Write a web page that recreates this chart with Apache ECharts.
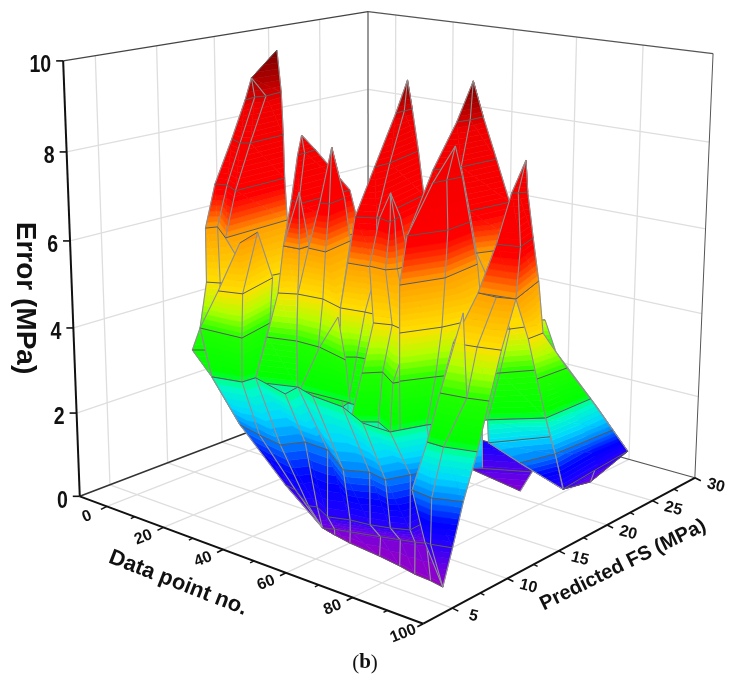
<!DOCTYPE html>
<html lang="en">
<head>
<meta charset="UTF-8" />
<title>Error surface</title>
<script src="https://cdn.jsdelivr.net/npm/echarts@6/dist/echarts.min.js"></script>
<style>html,body{margin:0;background:#fff}</style>
</head>
<body>
<div id="main" style="width:736px;height:683px"></div>
<script>
// tick labels
const xTicks=[0,20,40,60,80,100], xMinor=[10,30,50,70,90];
const yTicks=[5,10,15,20,25,30], yMinor=[7.5,12.5,17.5,22.5,27.5];
const zTicks=[0,2,4,6,8,10];

// surface values, one block per fold of the surface, back to front
// x = data point no., y = predicted FS, z = error (a single number means the whole row)
const tailBackX=[[85.2,87.8],[84.2,84.4],[83.7,81.5],[94.0,92.1]];
const tailBackY=[[16.8,17.4],[17.7,19.8],[22.8,25.5],[21.3,25.1]];
const tailBackZ=[4.7,3.7,1.8,1];
const patchX=[[64.6,80.1],[64.6,77.3],[57.8,75.3]];
const patchY=[[19.0,18.9],[18.3,20.1],[20.5,19.6]];
const patchZ=[1.3,0.7,0.25];
const leftX=[[13.4,13.4,13.4,12.2],[16.2,15.2,16.3,15.4],[9.1,13.9,15.8,15.2],[7.0,10.0,16.0,15.5],[5.8,7.2,16.3,15.5],[13.1,16.2,19.8,21.9],[13.4,18.5,26.8,23.5],[18.8,22.8,27.0,27.3],[26.5,27.4,31.7,32.9]];
const leftY=[[12.3,12.3,12.3,14.9],[11.0,12.1,12.8,14.4],[11.6,11.1,11.5,14.6],[10.6,10.9,10.1,14.6],[10.0,10.7,9.1,14.8],[8.2,8.6,10.3,13.1],[7.5,7.5,7.7,11.0],[7.1,7.2,7.6,8.7],[7.5,7.7,7.5,7.7]];
const leftZ=[[9.4,9.4,9.4,9.9],9,8,7,6,5,4,3,2];
const cornerX=[[13.4,13.4],[12.2,14.6],[18.8,18.8]];
const cornerY=[[7.5,7.5],[7.1,7.6],[7.1,7.1]];
const cornerZ=[4,3.5,3];
const leftLowX=[[22.3,21.3,21.3],[20.7,26.9,22.7],[13.4,26.8,23.5],[18.8,27.0,27.3],[26.5,34.9,35.8]];
const leftLowY=[[8.8,10.6,10.6],[7.3,7.8,11.5],[7.5,7.7,11.0],[7.1,7.6,8.7],[7.5,7.0,7.2]];
const leftLowZ=[[6,6.1,6.1],5,4,3,2];
const midAX=[[40.5,40.5,40.5],[34.0,33.7,33.2],[32.6,36.8,36.4],[32.1,36.9,37.3],[32.8,37.0,46.0],[30.8,38.4,49.3],[29.3,39.7,56.3],[32.9,41.8,57.5]];
const midAY=[[9.4,9.4,9.4],[10.8,11.5,12.6],[10.6,10.1,14.8],[10.0,10.1,15.5],[9.3,9.9,13.0],[8.8,9.4,12.0],[8.1,9.1,8.9],[7.7,8.5,8.6]];
const midAZ=[8.6,8,7,6,5,4,3,2];
const midInnerX=[[41.1,41.1,41.1],[32.1,36.9,36.8]];
const midInnerY=[[9.0,9.0,9.0],[10.0,10.1,11.0]];
const midInnerZ=[7.4,6];
const midBX=[[40.9,40.9,40.9],[39.9,42.2,41.0],[38.0,43.4,41.1],[37.0,44.3,52.3],[38.4,45.3,54.3],[39.7,46.6,57.1],[41.8,48.9,58.6]];
const midBY=[[11.9,11.9,11.9],[11.1,11.3,13.0],[10.6,10.6,13.5],[9.9,10.1,9.4],[9.4,9.4,8.8],[9.1,8.5,8.2],[8.5,7.8,7.7]];
const midBZ=[8.2,7,6,5,4,3,2];
const centreX=[[55.7,55.7,55.7],[54.2,54.1,53.9],[56.2,56.1,52.6],[55.1,59.6,53.4],[53.9,61.8,61.2],[52.3,58.8,68.9],[54.3,57.3,68.6],[57.1,56.3,70.8],[58.6,58.3,72.9]];
const centreY=[[14.4,14.4,14.4],[13.8,14.6,15.4],[11.3,12.7,16.4],[9.9,10.5,16.7],[9.6,9.9,13.5],[9.4,9.7,9.8],[8.8,9.4,9.9],[8.2,8.9,9.3],[7.7,8.3,8.7]];
const centreZ=[9.7,9,8,7,6,5,4,3,2];
const backPeakX=[[75.6,75.6,75.6],[71.6,72.4,72.5],[68.3,71.2,72.3],[71.2,71.6,73.4],[74.8,71.1,76.3],[75.2,92.1,95.4],[75.9,89.5,96.1],[77.1,88.0,97.4]];
const backPeakY=[[14.2,14.2,14.2],[14.0,15.0,16.2],[12.9,14.6,17.6],[10.0,15.3,18.6],[8.0,16.2,19.1],[7.9,12.5,14.2],[7.7,12.5,14.8],[7.4,11.9,14.3]];
const backPeakZ=[9.9,9,8,7,6,5,4,3];
const backLowX=[[88.0,97.4],[86.6,95.1],[93.0,95.8],[92.7,92.7]];
const backLowY=[[11.9,14.3],[12.5,15.6],[13.4,15.9],[17.9,17.9]];
const backLowZ=[3,2.4,2,0.9];
const tailX=[[100.9,96.3],[99.5,99.5],[98.4,99.0],[97.4,97.7],[95.8,97.1],[94.2,92.1]];
const tailY=[[10.0,13.7],[11.7,13.1],[13.0,15.7],[14.3,18.7],[15.9,21.4],[17.4,25.1]];
const tailZ=[6,5,4,3,2,1];
const bulgeX=[[92.7,93.1,92.1],[92.7,87.4,92.1]];
const bulgeY=[[17.9,21.1,25.1],[17.9,22.8,25.1]];
const bulgeZ=[[0.9,1,1],[0.9,0.4,1]];
const innerX=[[60.7,60.7,60.7,60.7],[60.1,64.3,63.3,63.0],[59.5,64.3,65.8,65.9],[65.8,70.0,76.9,78.1],[65.8,68.9,75.6,78.8],[65.1,70.0,76.2,79.6],[65.7,71.0,77.0,80.7]];
const innerY=[[11.4,11.4,11.4,11.4],[10.6,10.3,11.0,11.6],[9.9,9.9,10.5,11.6],[8.4,8.8,8.3,9.3],[7.4,8.3,7.2,9.1],[6.6,7.6,6.8,9.0],[6.1,7.3,6.5,8.7]];
const innerZ=[7.5,7,6,5,4,3,2];
const frontPeakX=[[81.3,81.3,81.3],[76.6,77.1,77.8],[75.2,78.8,78.0],[74.8,78.8,77.2],[75.2,79.6,82.2],[75.9,80.1,86.0],[77.1,79.6,87.1],[78.0,80.7,88.3]];
const frontPeakY=[[10.8,10.8,10.8],[10.3,11.4,12.6],[8.5,11.0,13.3],[8.0,10.8,14.3],[7.9,10.3,13.2],[7.7,9.6,12.0],[7.4,9.0,11.7],[7.1,8.7,11.4]];
const frontPeakZ=[8.8,8,7,6,5,4,3,2];
const foldAX=[[51.9,51.9],[45.7,56.6],[41.5,56.7]];
const foldAY=[[9.3,9.3],[9.4,8.6],[8.8,9.0]];
const foldAZ=[4.8,4,3];
const baseX=[[18.8,27.0,27.3,40.8,39.7,46.6,57.1,67.8,76.2,79.6,85.5],[26.5,34.9,43.2,46.3,53.8,65.0,70.5,76.2,78.5,81.0,85.5],[42.4,46.4,55.3,57.3,63.0,68.1,73.4,78.0,82.1,81.8,87.4],[56.0,56.0,56.0,56.0,58.7,62.5,69.7,74.3,77.7,80.1,83.1],[56.0,56.0,56.0,56.0,55.9,61.7,71.8,78.8,84.2,89.1,93.2]];
const baseY=[[7.1,7.6,8.7,7.7,9.1,8.5,8.2,6.9,6.8,9.0,11.1],[7.5,7.0,6.6,7.9,7.8,6.0,6.7,6.4,7.9,9.2,10.4],[7.2,7.0,5.7,5.9,5.2,5.7,5.9,6.3,6.8,8.5,8.8],[6.7,6.7,6.7,6.7,7.0,7.3,7.9,8.3,8.6,8.9,9.2],[6.7,6.7,6.7,6.7,7.8,7.5,7.2,6.9,6.6,6.5,6.3]];
const baseZ=[3,2,1,0.4,[0.4,0.4,0.4,0.4,0.1,0.1,0.1,0.1,0.1,0.1,0.1]];
const spikeX=[[101.7,101.7,101.7],[95.7,96.6,97.7],[94.5,99.8,97.4],[91.8,100.9,96.3]];
const spikeY=[[10.4,10.4,10.4],[11.2,11.5,12.0],[10.3,10.7,12.7],[9.6,10.0,13.7]];
const spikeZ=[8.8,8,7,6];
const stripX=[[91.8,96.8,100.9],[88.8,94.5,99.9],[87.8,94.3,99.2],[86.5,91.1,98.6],[84.6,90.8,97.4],[89.0,90.6,95.5],[93.2,93.2,93.2]];
const stripY=[[9.6,9.6,10.0],[8.4,8.7,9.1],[7.6,7.9,8.3],[6.9,6.9,7.5],[6.2,6.0,6.7],[6.0,6.0,6.4],[6.3,6.3,6.3]];
const stripZ=[6,5,4,3,2,1,0.1];
const foldBX=[[85.3,85.3],[87.8,94.3],[86.5,91.1]];
const foldBY=[[10.4,10.4],[7.6,7.9],[6.9,6.9]];
const foldBZ=[5.4,4,3];

const sheets=[[tailBackX,tailBackY,tailBackZ],[patchX,patchY,patchZ],[leftX,leftY,leftZ],[cornerX,cornerY,cornerZ],[leftLowX,leftLowY,leftLowZ],[midAX,midAY,midAZ],[midInnerX,midInnerY,midInnerZ],[midBX,midBY,midBZ],[centreX,centreY,centreZ],[backPeakX,backPeakY,backPeakZ],[backLowX,backLowY,backLowZ],[tailX,tailY,tailZ],[bulgeX,bulgeY,bulgeZ],[innerX,innerY,innerZ],[frontPeakX,frontPeakY,frontPeakZ],[foldAX,foldAY,foldAZ],[baseX,baseY,baseZ],[spikeX,spikeY,spikeZ],[stripX,stripY,stripZ],[foldBX,foldBY,foldBZ]];

const xMin=-10,xMax=100,yMin=2.5,yMax=30,zMax=10;
// where known points of the box sit on screen, used to fit the perspective
const anchors=[[-10,2.5,0,80,497],[100,2.5,0,421.7,622.7],[100,30,0,693,479],[-10,30,0,368,385],[-10,2.5,10,63,61],[100,30,10,713,53],[-10,30,10,368,11],[0,2.5,0,106.7,507],[100,5,0,453,607],[100,20,0,610,526],[0,30,10,396,16],[80,30,10,643,45]];

// least squares for the 11 terms of the camera matrix
function fit(){
    const n=11,A=[],b=[];
    for(const [x,y,z,u,v] of anchors){
        A.push([x,y,z,1,0,0,0,0,-u*x,-u*y,-u*z]);b.push(u);
        A.push([0,0,0,0,x,y,z,1,-v*x,-v*y,-v*z]);b.push(v);
    }
    const N=[];
    for(let i=0;i<n;i++){
        N.push(new Array(n+1).fill(0));
        for(let j=0;j<n;j++)for(let k=0;k<A.length;k++)N[i][j]+=A[k][i]*A[k][j];
        for(let k=0;k<A.length;k++)N[i][n]+=A[k][i]*b[k];
    }
    for(let i=0;i<n;i++){
        let p=i;
        for(let r=i+1;r<n;r++)if(Math.abs(N[r][i])>Math.abs(N[p][i]))p=r;
        [N[i],N[p]]=[N[p],N[i]];
        for(let r=0;r<n;r++){
            if(r===i)continue;
            const f=N[r][i]/N[i][i];
            for(let c=i;c<=n;c++)N[r][c]-=f*N[i][c];
        }
    }
    return N.map((r,i)=>r[n]/r[i]);
}
const M=fit();
function proj(x,y,z){
    const w=M[8]*x+M[9]*y+M[10]*z+1;
    return [(M[0]*x+M[1]*y+M[2]*z+M[3])/w,(M[4]*x+M[5]*y+M[6]*z+M[7])/w];
}

const stops=[[0,[160,0,192]],[0.6,[96,0,232]],[1.2,[20,0,255]],[1.5,[0,0,255]],[2,[0,128,255]],[2.4,[0,216,255]],[2.9,[0,255,192]],[3.1,[0,255,0]],[4,[32,255,0]],[4.5,[176,255,0]],[5,[255,224,0]],[6,[255,160,0]],[6.5,[255,48,0]],[6.8,[255,0,0]],[8.8,[240,0,0]],[9.3,[176,0,0]],[10,[112,0,0]]];
function colorAt(z){
    for(let i=1;i<stops.length;i++){
        if(z<=stops[i][0]){
            const a=stops[i-1],b=stops[i],t=(z-a[0])/(b[0]-a[0]);
            return 'rgb('+a[1].map((v,k)=>Math.round(v+(b[1][k]-v)*t)).join(',')+')';
        }
    }
    return 'rgb(112,0,0)';
}
const bandStep=0.125;
// keep the part of a triangle between two error levels
function clip(poly,lo,hi){
    function cut(p,keep,level){
        const o=[];
        for(let i=0;i<p.length;i++){
            const a=p[i],b=p[(i+1)%p.length],ka=keep(a[2]),kb=keep(b[2]);
            if(ka)o.push(a);
            if(ka!==kb){
                const t=(level-a[2])/(b[2]-a[2]);
                o.push([a[0]+(b[0]-a[0])*t,a[1]+(b[1]-a[1])*t,level]);
            }
        }
        return o;
    }
    return cut(cut(poly,z=>z>=lo,lo),z=>z<=hi,hi);
}
function renderSheet(params,api){
    const [sx,sy,sz]=sheets[api.value(0)],kids=[];
    const rows=sx.length,cols=sx[0].length;
    const pt=(r,c)=>[sx[r][c],sy[r][c],Array.isArray(sz[r])?sz[r][c]:sz[r]];
    const toPx=p=>api.coord(proj(p[0],p[1],p[2]));
    const tri=(a,b,c)=>{
        const lo=Math.min(a[2],b[2],c[2]),hi=Math.max(a[2],b[2],c[2]);
        for(let k=Math.floor(lo/bandStep);k*bandStep<hi;k++){
            const l=k*bandStep,poly=clip([a,b,c],l,l+bandStep);
            if(poly.length<3)continue;
            const col=colorAt(l+bandStep/2);
            kids.push({type:'polygon',shape:{points:poly.map(toPx)},style:{fill:col,stroke:col,lineWidth:0.6},silent:true});
        }
    };
    for(let r=0;r<rows-1;r++)for(let c=0;c<cols-1;c++){
        tri(pt(r,c),pt(r+1,c),pt(r+1,c+1));
        tri(pt(r,c),pt(r+1,c+1),pt(r,c+1));
    }
    for(let c=0;c<cols;c++){
        const pts=[];
        for(let r=0;r<rows;r++)pts.push(toPx(pt(r,c)));
        kids.push({type:'polyline',shape:{points:pts},style:{fill:'none',stroke:'#909090',lineWidth:1.1},silent:true});
    }
    for(let r=0;r<rows;r++){
        const pts=[];
        for(let c=0;c<cols;c++)pts.push(toPx(pt(r,c)));
        kids.push({type:'polyline',shape:{points:pts},style:{fill:'none',stroke:'#5a5a5a',lineWidth:1},silent:true});
    }
    return {type:'group',children:kids};
}
function line(api,a,b,color,w,off){
    const p=api.coord(proj(a[0],a[1],a[2])),q=api.coord(proj(b[0],b[1],b[2]));
    if(off){q[0]+=off[0];q[1]+=off[1];}
    return {type:'line',shape:{x1:p[0],y1:p[1],x2:q[0],y2:q[1]},style:{stroke:color,lineWidth:w},silent:true};
}
function label(x,y,text,font,rotation,align,scaleX){
    return {type:'text',x:x,y:y,rotation:rotation||0,scaleX:scaleX||1,style:{text:text,font:font,fill:'#111',align:align||'center',verticalAlign:'middle'},silent:true};
}
function renderFrame(params,api){
    const k=[],g='#dedede';
    for(const t of yTicks.slice(0,5)){
        k.push(line(api,[xMin,t,0],[xMax,t,0],g,1.3));
        k.push(line(api,[xMin,t,0],[xMin,t,zMax],g,1.3));
    }
    for(const t of xTicks.slice(0,5)){
        k.push(line(api,[t,yMin,0],[t,yMax,0],g,1.3));
        k.push(line(api,[t,yMax,0],[t,yMax,zMax],g,1.3));
    }
    for(const t of zTicks.slice(1,5)){
        k.push(line(api,[xMin,yMin,t],[xMin,yMax,t],g,1.3));
        k.push(line(api,[xMin,yMax,t],[xMax,yMax,t],g,1.3));
    }
    k.push(line(api,[xMin,yMax,0],[xMin,yMax,zMax],'#777',1.5));
    k.push(line(api,[xMin,yMin,zMax],[xMin,yMax,zMax],'#444',1.3));
    k.push(line(api,[xMin,yMax,zMax],[xMax,yMax,zMax],'#555',1.2));
    k.push(line(api,[xMax,yMax,0],[xMax,yMax,zMax],'#555',1));
    k.push(line(api,[xMin,yMax,0],[xMax,yMax,0],'#555',1.2));
    k.push(line(api,[xMin,yMin,0],[xMin,yMax,0],'#333',1.5));
    k.push(line(api,[xMin,yMin,0],[xMin,yMin,zMax],'#111',2));
    k.push(line(api,[xMin,yMin,0],[xMax,yMin,0],'#111',2));
    k.push(line(api,[xMax,yMin,0],[xMax,yMax,0],'#111',2));
    const f="bold 16px 'Liberation Sans'";
    for(const t of xTicks){
        k.push(line(api,[t,yMin,0],[t,yMin,0],'#111',1.6,[-6,3]));
        const p=api.coord(proj(t,yMin,0));
        k.push(label(p[0]-20,p[1]+10,String(t),f,0.38));
    }
    for(const t of xMinor)k.push(line(api,[t,yMin,0],[t,yMin,0],'#111',1.4,[-4,2]));
    for(const t of yTicks){
        k.push(line(api,[xMax,t,0],[xMax,t,0],'#111',1.6,[6,3]));
        const p=api.coord(proj(xMax,t,0));
        k.push(label(p[0]+21,p[1]+8,String(t),f,-0.25));
    }
    for(const t of yMinor)k.push(line(api,[xMax,t,0],[xMax,t,0],'#111',1.4,[4,2]));
    for(const t of zTicks){
        k.push(line(api,[xMin,yMin,t],[xMin,yMin,t],'#111',1.6,[-7,0]));
        const p=api.coord(proj(xMin,yMin,t));
        k.push(label(p[0]-12,p[1]+5,String(t),"bold 23px 'Liberation Sans'",0,'right',0.85));
    }
    k.push(label(178,583,'Data point no.',"bold 22px 'Liberation Sans'",-0.37));
    k.push(label(623,565,'Predicted FS (MPa)',"bold 20px 'Liberation Sans'",0.46));
    k.push(label(25,298,'Error (MPa)',"bold 28px 'Liberation Sans'",-Math.PI/2));
    k.push({type:'text',x:365,y:663,style:{text:'({b|b})',font:"21px 'Liberation Serif'",fill:'#111',align:'center',verticalAlign:'middle',rich:{b:{font:"bold 21px 'Liberation Serif'",fill:'#111'}}},silent:true});
    return {type:'group',children:k};
}
const chart=echarts.init(document.getElementById('main'));
chart.setOption({
    animation:false,
    grid:{left:0,right:0,top:0,bottom:0},
    xAxis:{type:'value',min:0,max:736,show:false},
    yAxis:{type:'value',min:0,max:683,inverse:true,show:false},
    series:[
        {type:'custom',coordinateSystem:'cartesian2d',data:[[0]],renderItem:renderFrame,clip:false,silent:true,z:1},
        {type:'custom',coordinateSystem:'cartesian2d',data:sheets.map((s,i)=>[i]),renderItem:renderSheet,clip:false,silent:true,z:2}
    ]
});
</script>
</body>
</html>
